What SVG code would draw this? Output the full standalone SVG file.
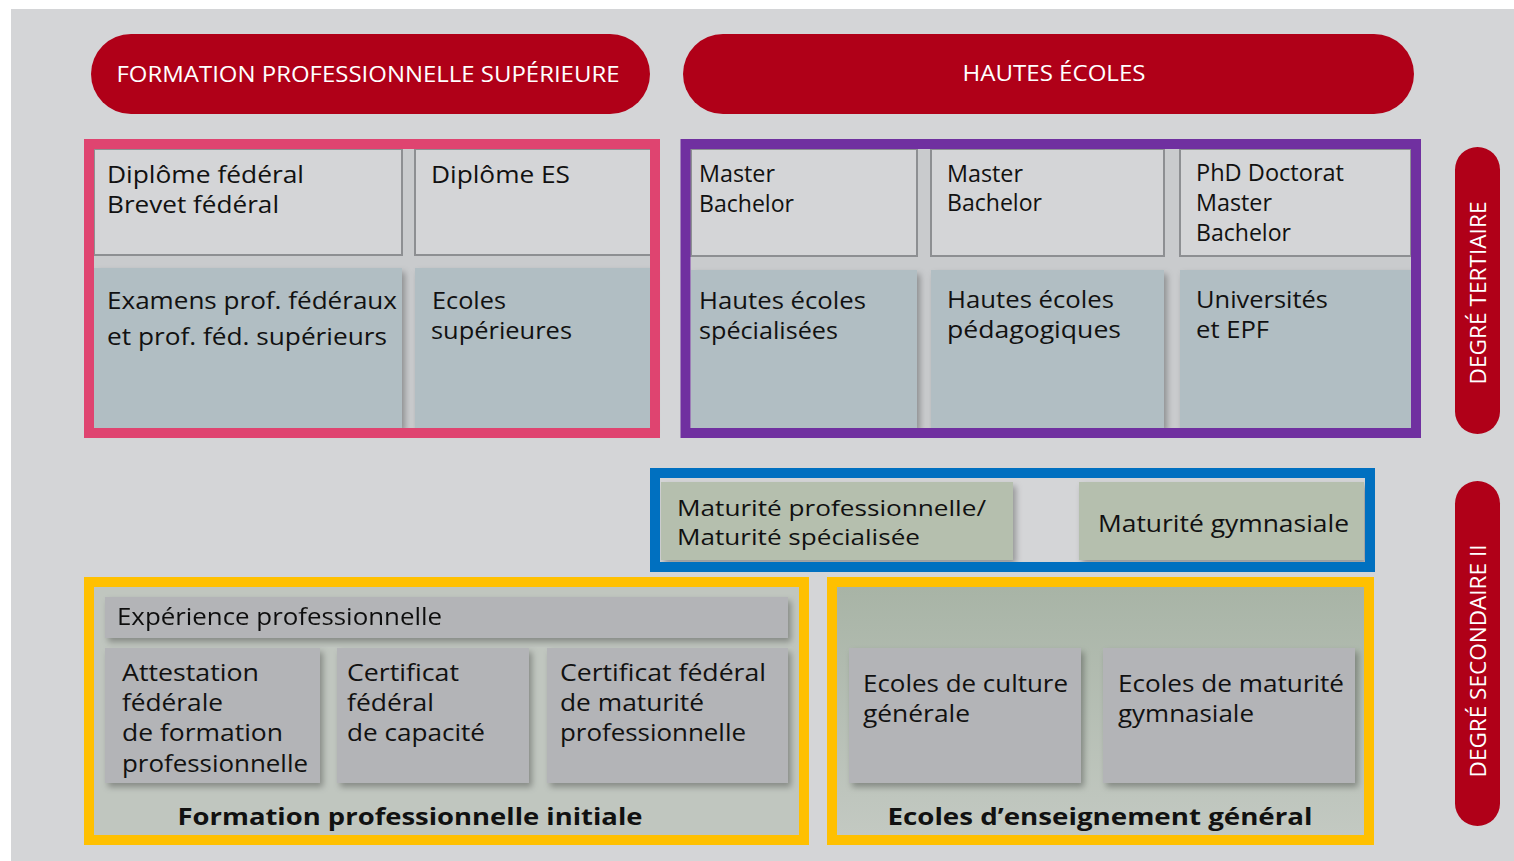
<svg xmlns="http://www.w3.org/2000/svg" width="1514" height="861" viewBox="0 0 1514 861">
<defs>
<style>
.t{font-family:"Open Sans","Noto Sans",sans-serif;font-size:23px;fill:#111}
.h{font-family:"Open Sans","Noto Sans",sans-serif;font-size:21px;fill:#fff}
.b{font-family:"Open Sans","Noto Sans",sans-serif;font-size:24px;font-weight:bold;fill:#111}
.pill{fill:#b00018}
.top{fill:#d4d5d7;stroke:#8d8f92;stroke-width:2}
.low{fill:#b1bec3}
.mat{fill:#b5bfae}
.cell{fill:#b3b4b7}
</style>
<filter id="sh" x="-10%" y="-10%" width="125%" height="130%">
<feDropShadow dx="3" dy="4" stdDeviation="3" flood-color="#000" flood-opacity="0.3"/>
</filter>
<linearGradient id="gg" x1="0" y1="0" x2="0" y2="1">
<stop offset="0" stop-color="#a8b4a6"/>
<stop offset="1" stop-color="#c3c9c2"/>
</linearGradient>
</defs>
<rect x="11" y="9" width="1503" height="852" fill="#d4d5d7"/>

<g id="pill-fps">
<rect class="pill" x="91" y="34" width="559" height="80" rx="40"/>
<text class="h" x="368" y="82" text-anchor="middle" textLength="503" lengthAdjust="spacingAndGlyphs">FORMATION PROFESSIONNELLE SUPÉRIEURE</text>
</g>
<g id="pill-he">
<rect class="pill" x="683" y="34" width="731" height="80" rx="40"/>
<text class="h" x="1054" y="81" text-anchor="middle" textLength="183" lengthAdjust="spacingAndGlyphs">HAUTES ÉCOLES</text>
</g>
<g id="pill-tertiaire">
<rect class="pill" x="1455" y="147" width="45" height="287" rx="22.5"/>
<text class="h" transform="translate(1486,293) rotate(-90)" text-anchor="middle" textLength="183" lengthAdjust="spacingAndGlyphs">DEGRÉ TERTIAIRE</text>
</g>
<g id="pill-secondaire">
<rect class="pill" x="1455" y="481" width="45" height="345" rx="22.5"/>
<text class="h" transform="translate(1486,661) rotate(-90)" text-anchor="middle" textLength="233" lengthAdjust="spacingAndGlyphs">DEGRÉ SECONDAIRE II</text>
</g>

<g id="fps-box">
<rect x="94" y="149" width="557" height="279" fill="#c9cbcd"/>
<g id="examens" filter="url(#sh)">
<rect class="low" x="94" y="268" width="308" height="160"/>
</g>
<g id="ecoles-sup" filter="url(#sh)">
<rect class="low" x="415" y="268" width="236" height="160"/>
</g>
<g id="diplome-federal">
<rect class="top" x="94" y="149" width="308" height="106"/>
<text class="t" x="107" y="183" textLength="197" lengthAdjust="spacingAndGlyphs">Diplôme fédéral</text>
<text class="t" x="107" y="213" textLength="172" lengthAdjust="spacingAndGlyphs">Brevet fédéral</text>
</g>
<g id="diplome-es">
<rect class="top" x="415" y="149" width="236" height="106"/>
<text class="t" x="431" y="183" textLength="139" lengthAdjust="spacingAndGlyphs">Diplôme ES</text>
</g>
<text class="t" x="107" y="309" textLength="290" lengthAdjust="spacingAndGlyphs">Examens prof. fédéraux</text>
<text class="t" x="107" y="345" textLength="280" lengthAdjust="spacingAndGlyphs">et prof. féd. supérieurs</text>
<text class="t" x="432" y="309" textLength="74" lengthAdjust="spacingAndGlyphs">Ecoles</text>
<text class="t" x="431" y="339" textLength="141" lengthAdjust="spacingAndGlyphs">supérieures</text>
<rect x="89" y="144" width="566" height="289" fill="none" stroke="#df4470" stroke-width="10"/>
</g>

<g id="he-box">
<rect x="691" y="149" width="720" height="279" fill="#c9cbcd"/>
<g filter="url(#sh)">
<rect class="low" x="691" y="270" width="226" height="158"/>
<rect class="low" x="931" y="270" width="233" height="158"/>
<rect class="low" x="1180" y="270" width="231" height="158"/>
</g>
<g id="hes-top">
<rect class="top" x="691" y="149" width="226" height="107"/>
<text class="t" x="699" y="182" textLength="76" lengthAdjust="spacingAndGlyphs">Master</text>
<text class="t" x="699" y="212" textLength="95" lengthAdjust="spacingAndGlyphs">Bachelor</text>
</g>
<g id="hep-top">
<rect class="top" x="931" y="149" width="233" height="107"/>
<text class="t" x="947" y="182" textLength="76" lengthAdjust="spacingAndGlyphs">Master</text>
<text class="t" x="947" y="211" textLength="95" lengthAdjust="spacingAndGlyphs">Bachelor</text>
</g>
<g id="uni-top">
<rect class="top" x="1180" y="149" width="231" height="107"/>
<text class="t" x="1196" y="181" textLength="148" lengthAdjust="spacingAndGlyphs">PhD Doctorat</text>
<text class="t" x="1196" y="211" textLength="76" lengthAdjust="spacingAndGlyphs">Master</text>
<text class="t" x="1196" y="241" textLength="95" lengthAdjust="spacingAndGlyphs">Bachelor</text>
</g>
<g id="hes">
<text class="t" x="699" y="309" textLength="167" lengthAdjust="spacingAndGlyphs">Hautes écoles</text>
<text class="t" x="699" y="339" textLength="139" lengthAdjust="spacingAndGlyphs">spécialisées</text>
</g>
<g id="hep">
<text class="t" x="947" y="308" textLength="167" lengthAdjust="spacingAndGlyphs">Hautes écoles</text>
<text class="t" x="947" y="338" textLength="174" lengthAdjust="spacingAndGlyphs">pédagogiques</text>
</g>
<g id="uni">
<text class="t" x="1196" y="308" textLength="132" lengthAdjust="spacingAndGlyphs">Universités</text>
<text class="t" x="1196" y="338" textLength="73" lengthAdjust="spacingAndGlyphs">et EPF</text>
</g>
<rect x="685.5" y="144" width="730.5" height="289" fill="none" stroke="#7030a0" stroke-width="10"/>
</g>

<g id="maturite-box">
<rect x="660" y="478" width="705" height="84" fill="#d4d5d7"/>
<g id="mat-pro" filter="url(#sh)">
<rect class="mat" x="661" y="482" width="352" height="78"/>
</g>
<g id="mat-gym" filter="url(#sh)">
<rect class="mat" x="1079" y="482" width="285" height="78"/>
</g>
<text class="t" x="677" y="516" style="font-size:21px" textLength="309" lengthAdjust="spacingAndGlyphs">Maturité professionnelle/</text>
<text class="t" x="677" y="545" style="font-size:21px" textLength="243" lengthAdjust="spacingAndGlyphs">Maturité spécialisée</text>
<text class="t" x="1098" y="532" textLength="251" lengthAdjust="spacingAndGlyphs">Maturité gymnasiale</text>
<rect x="655" y="473" width="715" height="94" fill="none" stroke="#0070c0" stroke-width="10"/>
</g>

<g id="fpi-box">
<rect x="94" y="587" width="705" height="248" fill="#c0c6bf"/>
<g id="experience" filter="url(#sh)">
<rect class="cell" x="105" y="597" width="683" height="41"/>
<text class="t" x="117" y="625" textLength="325" lengthAdjust="spacingAndGlyphs">Expérience professionnelle</text>
</g>
<g id="afp" filter="url(#sh)">
<rect class="cell" x="105" y="648" width="215" height="135"/>
</g>
<g id="cfc" filter="url(#sh)">
<rect class="cell" x="337" y="648" width="192" height="135"/>
</g>
<g id="cfmp" filter="url(#sh)">
<rect class="cell" x="547" y="648" width="241" height="135"/>
</g>
<text class="t" x="122" y="681" textLength="137" lengthAdjust="spacingAndGlyphs">Attestation</text>
<text class="t" x="122" y="711" textLength="101" lengthAdjust="spacingAndGlyphs">fédérale</text>
<text class="t" x="122" y="741" textLength="161" lengthAdjust="spacingAndGlyphs">de formation</text>
<text class="t" x="122" y="772" textLength="186" lengthAdjust="spacingAndGlyphs">professionnelle</text>
<text class="t" x="347" y="681" textLength="112" lengthAdjust="spacingAndGlyphs">Certificat</text>
<text class="t" x="347" y="711" textLength="87" lengthAdjust="spacingAndGlyphs">fédéral</text>
<text class="t" x="347" y="741" textLength="138" lengthAdjust="spacingAndGlyphs">de capacité</text>
<text class="t" x="560" y="681" textLength="206" lengthAdjust="spacingAndGlyphs">Certificat fédéral</text>
<text class="t" x="560" y="711" textLength="144" lengthAdjust="spacingAndGlyphs">de maturité</text>
<text class="t" x="560" y="741" textLength="186" lengthAdjust="spacingAndGlyphs">professionnelle</text>
<text class="b" x="410" y="825" text-anchor="middle" textLength="465" lengthAdjust="spacingAndGlyphs">Formation professionnelle initiale</text>
<rect x="89" y="582" width="715" height="258" fill="none" stroke="#ffc000" stroke-width="10"/>
</g>

<g id="eeg-box">
<rect x="837" y="587" width="527" height="248" fill="url(#gg)"/>
<g id="ecg" filter="url(#sh)">
<rect class="cell" x="849" y="648" width="232" height="135"/>
</g>
<g id="emg" filter="url(#sh)">
<rect class="cell" x="1103" y="648" width="252" height="135"/>
</g>
<text class="t" x="863" y="692" textLength="205" lengthAdjust="spacingAndGlyphs">Ecoles de culture</text>
<text class="t" x="863" y="722" textLength="107" lengthAdjust="spacingAndGlyphs">générale</text>
<text class="t" x="1118" y="692" textLength="226" lengthAdjust="spacingAndGlyphs">Ecoles de maturité</text>
<text class="t" x="1118" y="722" textLength="136" lengthAdjust="spacingAndGlyphs">gymnasiale</text>
<text class="b" x="1100" y="825" text-anchor="middle" textLength="425" lengthAdjust="spacingAndGlyphs">Ecoles d’enseignement général</text>
<rect x="832" y="582" width="537" height="258" fill="none" stroke="#ffc000" stroke-width="10"/>
</g>
<g id="connectors"/>
</svg>
